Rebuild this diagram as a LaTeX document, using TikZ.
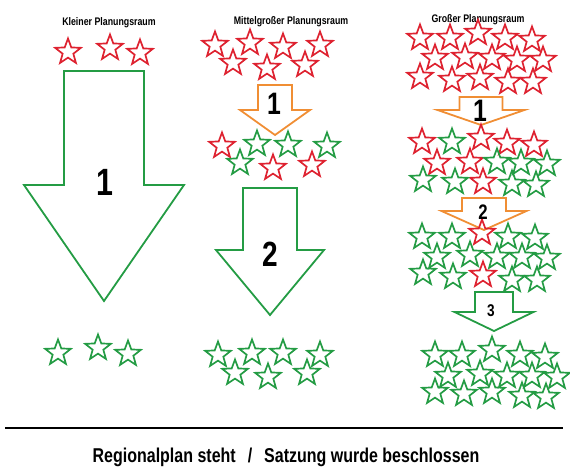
\documentclass[tikz,border=0pt]{standalone}
\usepackage{fontspec}
\setmainfont{Liberation Sans}[FakeStretch=0.8]
\usetikzlibrary{shapes.geometric}

\definecolor{starred}{RGB}{222,34,48}
\definecolor{stargreen}{RGB}{36,156,68}
\definecolor{steporange}{RGB}{240,142,52}

\tikzset{
  redstar/.style={star, star points=5, star point ratio=2.4, minimum size=27pt,
    inner sep=0pt, draw=starred, line width=1.7pt},
  greenstar/.style={redstar, draw=stargreen},
  stagearrow/.style={line width=1.8pt, line join=miter},
  title/.style={anchor=base, font=\bfseries\fontsize{11}{13}\selectfont},
  stagenum/.style={inner sep=0pt, font=\bfseries}
}

% down arrow: colour, centre x, top, shaft half width, head y, head half width, tip y
\newcommand{\stagedown}[7]{%
  \draw[stagearrow, draw=#1] ({#2-#4},#3) -- ({#2+#4},#3) -- ({#2+#4},#5)
    -- ({#2+#6},#5) -- (#2,#7) -- ({#2-#6},#5) -- ({#2-#4},#5) -- cycle;}

\begin{document}
\begin{tikzpicture}[x=1pt, y=-1pt]
    \useasboundingbox (0,0) rectangle (570,474);

    \node[title] (tk) at (109,25) {Kleiner Planungsraum};
    \node[title] (tm) at (291,24) {Mittelgroßer Planungsraum};
    \node[title] (tg) at (478,22.5) {Großer Planungsraum};

    % arrows first, stars on top
    \stagedown{stargreen}{104}{71}{40}{185}{80}{301}
    \stagedown{steporange}{275}{85}{17}{110}{35}{135}
    \stagedown{stargreen}{270}{188}{27}{250}{54}{315}
    \stagedown{steporange}{481}{97}{21.5}{110}{43.5}{125}
    \stagedown{steporange}{484}{198}{22}{211}{42.5}{230}
    \stagedown{stargreen}{494}{292}{19}{312}{39.5}{331}

    % kleiner Planungsraum
    \foreach \x/\y [count=\i] in {68/52, 110/48, 140/53}
      \node[redstar] (kr\i) at (\x,\y) {};
    \foreach \x/\y [count=\i] in {58/353, 98/348, 128/354}
      \node[greenstar] (kg\i) at (\x,\y) {};

    % mittelgrosser Planungsraum
    \foreach \x/\y [count=\i] in {215/45, 250/43, 283/47, 320/45, 233/63, 267/68, 305/65}
      \node[redstar] (mr\i) at (\x,\y) {};
    \foreach \x/\y [count=\i] in {222/146, 273/168, 312/165}
      \node[redstar] (ms\i) at (\x,\y) {};
    \foreach \x/\y [count=\i] in {257/144, 288/145, 327/146, 240/163}
      \node[greenstar] (mg\i) at (\x,\y) {};
    \foreach \x/\y [count=\i] in {218/355, 252/353, 283/353, 320/355, 235/373, 268/377, 307/373}
      \node[greenstar] (mf\i) at (\x,\y) {};

    % grosser Planungsraum
    \foreach \x/\y [count=\i] in {420/38, 450/38, 478/33, 505/38, 532/40,
        435/58, 465/57, 492/58, 517/60, 543/60,
        420/77, 452/80, 480/78, 508/82, 533/82}
      \node[redstar] (gr\i) at (\x,\y) {};
    \foreach \x/\y [count=\i] in {422/142, 481/138, 507/143, 534/145, 437/163, 470/162, 483/182}
      \node[redstar] (gs\i) at (\x,\y) {};
    \foreach \x/\y [count=\i] in {452/142, 497/162, 521/163, 547/164, 423/180, 455/182, 512/184, 536/185}
      \node[greenstar] (gg\i) at (\x,\y) {};
    \foreach \x/\y [count=\i] in {482/233, 483/275}
      \node[redstar] (gt\i) at (\x,\y) {};
    \foreach \x/\y [count=\i] in {422/237, 452/237, 508/237, 535/238,
        437/257, 470/255, 497/257, 522/257, 547/258,
        423/273, 453/277, 512/280, 537/280}
      \node[greenstar] (gh\i) at (\x,\y) {};
    \foreach \x/\y [count=\i] in {435/355, 462/355, 492/350, 520/355, 545/357,
        448/376, 480/374, 507/376, 532/376, 557/377,
        435/392, 464/394, 492/392, 522/396, 546/397}
      \node[greenstar] (gf\i) at (\x,\y) {};

    \node[stagenum, font=\bfseries\fontsize{38}{40}\selectfont] (k1) at (105,182) {1};
    \node[stagenum, font=\bfseries\fontsize{31}{33}\selectfont] (m1) at (274,104) {1};
    \node[stagenum, font=\bfseries\fontsize{35}{37}\selectfont] (m2) at (270,254) {2};
    \node[stagenum, font=\bfseries\fontsize{31}{33}\selectfont] (g1) at (480,111) {1};
    \node[stagenum, font=\bfseries\fontsize{21}{23}\selectfont] (g2) at (483,212) {2};
    \node[stagenum, font=\bfseries\fontsize{17}{19}\selectfont] (g3) at (491,311) {3};

    \coordinate (ll) at (5,428);
    \coordinate (lr) at (563,428);
    \draw[line width=1.5pt] (ll) -- (lr);
    \node[anchor=base, font=\bfseries\fontsize{20}{22}\selectfont] (res) at (286,462)
      {Regionalplan steht\hspace{12pt}/\hspace{12pt}Satzung wurde beschlossen};
\end{tikzpicture}
\end{document}
